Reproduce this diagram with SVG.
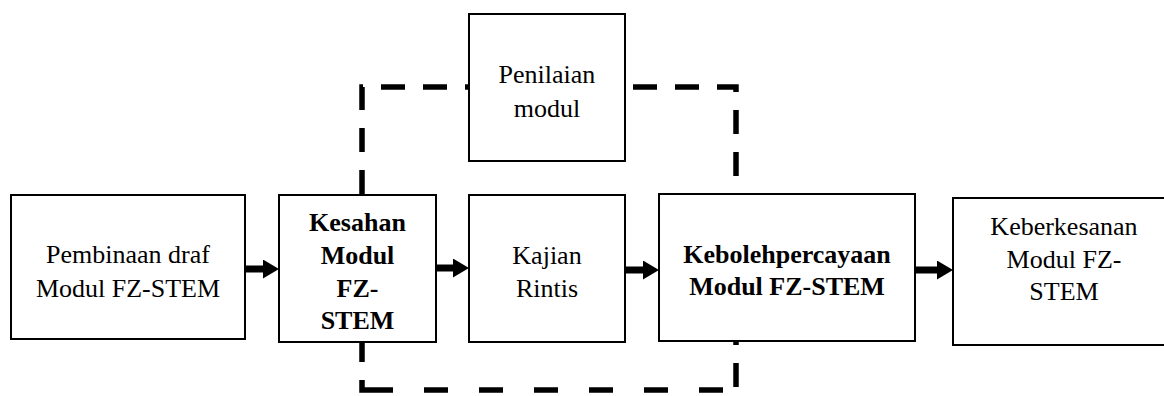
<svg xmlns="http://www.w3.org/2000/svg" width="1164" height="396" viewBox="0 0 1164 396">
<style>
.box{fill:#fff;stroke:#000;stroke-width:2}
text{font-family:'Liberation Serif','Times New Roman',serif;font-size:26px;fill:#000;text-anchor:middle}
.b{font-weight:bold}
.dash{fill:none;stroke:#000;stroke-width:5.5;stroke-linejoin:miter;stroke-linecap:butt}
.arr{stroke:#000;stroke-width:7;fill:none}
</style>
<defs>
<marker id="ah" markerUnits="userSpaceOnUse" markerWidth="16" markerHeight="19" refX="0" refY="9.5" orient="auto">
<path d="M0,0 L16,9.5 L0,19 z" fill="#000"/>
</marker>
</defs>
<g id="connectors">
<path class="dash" d="M362,195 V87 H736 V195" stroke-dasharray="24 18" stroke-dashoffset="-1"/>
<path class="dash" d="M736,342 V390" stroke-dasharray="3 18 24 100"/>
<path class="dash" d="M736,390 H387" stroke-dasharray="0 13 24 18"/>
<path class="dash" d="M362,343 V390 H387" stroke-dasharray="19 18 35 100"/>
<line class="arr" x1="245" y1="269" x2="263" y2="269" marker-end="url(#ah)"/>
<line class="arr" x1="436" y1="268" x2="453" y2="268" marker-end="url(#ah)"/>
<line class="arr" x1="625" y1="270" x2="643" y2="270" marker-end="url(#ah)"/>
<line class="arr" x1="915" y1="270" x2="937" y2="270" marker-end="url(#ah)"/>
</g>
<g id="n1">
<rect class="box" x="11" y="195" width="234" height="144"/>
<text x="128" y="263">Pembinaan draf</text>
<text x="128" y="297">Modul FZ-STEM</text>
</g>
<g id="n2">
<rect class="box" x="279" y="195" width="157" height="147"/>
<text class="b" x="357.5" y="231">Kesahan</text>
<text class="b" x="357.5" y="264">Modul</text>
<text class="b" x="357.5" y="297">FZ-</text>
<text class="b" x="357.5" y="329">STEM</text>
</g>
<g id="n3">
<rect class="box" x="469" y="14" width="156" height="147"/>
<text x="547" y="83">Penilaian</text>
<text x="547" y="117">modul</text>
</g>
<g id="n4">
<rect class="box" x="469" y="195" width="156" height="147"/>
<text x="547" y="264">Kajian</text>
<text x="547" y="297">Rintis</text>
</g>
<g id="n5">
<rect class="box" x="659" y="194" width="256" height="147"/>
<text class="b" x="787" y="263">Kebolehpercayaan</text>
<text class="b" x="787" y="295">Modul FZ-STEM</text>
</g>
<g id="n6">
<rect class="box" x="953" y="198" width="222" height="147"/>
<text x="1064" y="235">Keberkesanan</text>
<text x="1064" y="268">Modul FZ-</text>
<text x="1064" y="300">STEM</text>
</g>
</svg>
